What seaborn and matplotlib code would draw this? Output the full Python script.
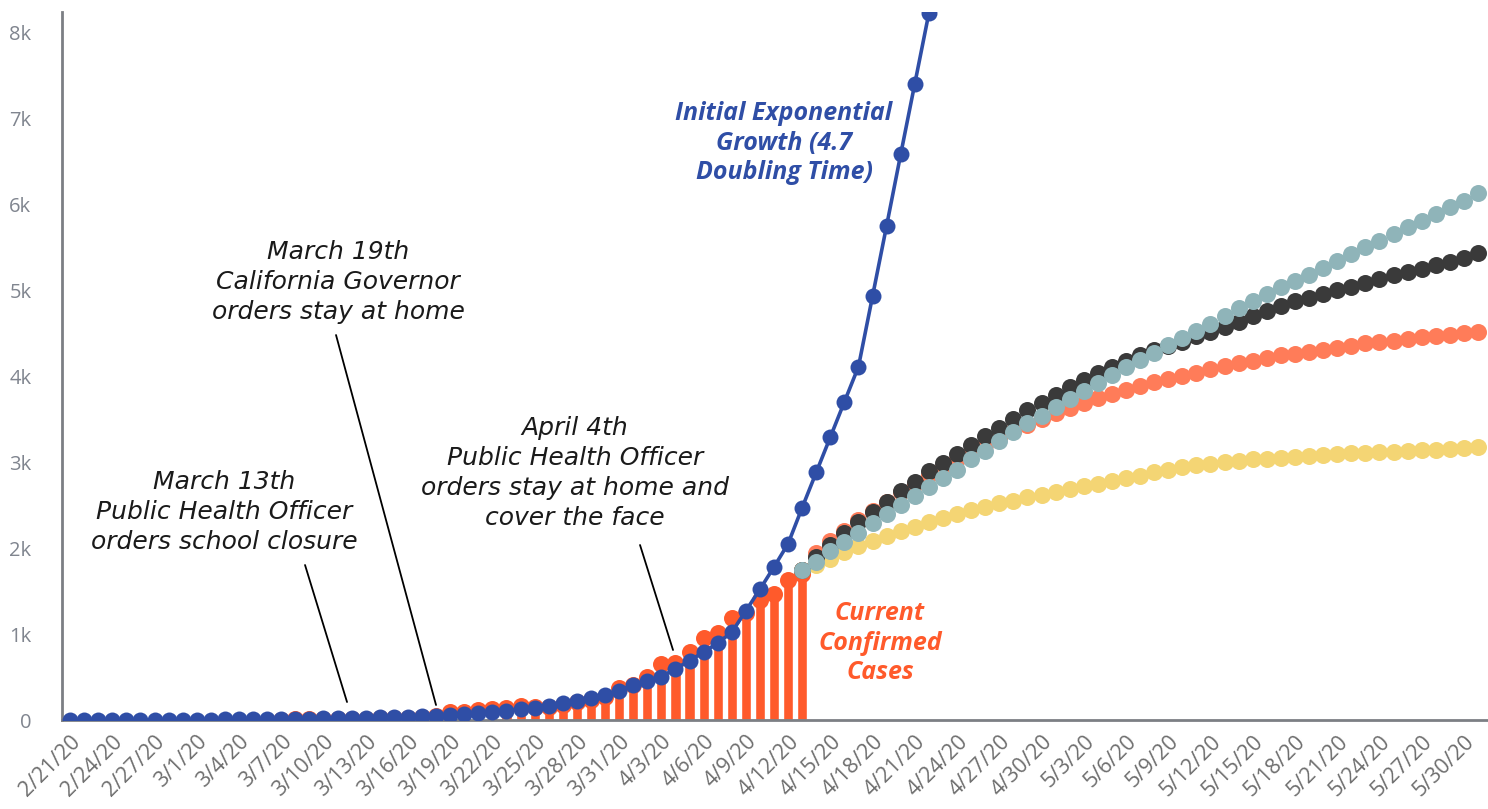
import numpy as np
import pandas as pd
import matplotlib
matplotlib.use("Agg")
import matplotlib.pyplot as plt
import seaborn as sns

# ---------------- data ----------------
dates = pd.date_range("2020-02-21", "2020-05-31", freq="D")
day = np.arange(len(dates))

tick_labels = ["2/21/20", "2/24/20", "2/27/20", "3/1/20", "3/4/20", "3/7/20", "3/10/20",
               "3/13/20", "3/16/20", "3/19/20", "3/22/20", "3/25/20", "3/28/20", "3/31/20",
               "4/3/20", "4/6/20", "4/9/20", "4/12/20", "4/15/20", "4/18/20", "4/21/20",
               "4/24/20", "4/27/20", "4/30/20", "5/3/20", "5/6/20", "5/9/20", "5/12/20",
               "5/15/20", "5/18/20", "5/21/20", "5/24/20", "5/27/20", "5/30/20"]
y_tick_labels = ["0", "1k", "2k", "3k", "4k", "5k", "6k", "7k", "8k"]

# Initial exponential growth, 2/21 .. 4/22
exp_growth = [1, 1, 1, 2, 2, 2, 3, 3, 4, 4, 5, 6, 7, 8,
              9, 11, 13, 15, 18, 21, 25, 29,
              30, 34, 39, 45, 52, 60, 70, 80, 92,
              108, 125, 145, 168, 195, 225, 255, 290, 340,
              410, 455, 505, 595, 690, 790, 895, 1020, 1270,
              1520, 1780, 2050, 2470, 2880, 3290, 3700, 4110, 4930, 5750, 6580, 7400, 8220]

# Current confirmed cases, 3/7 .. 4/13
confirmed = [5, 6, 8, 10, 12, 14, 17, 20, 24, 28, 34, 45,
             95, 95, 115, 130, 145, 165, 150, 155, 170, 205, 235, 265,
             370, 410, 500, 650, 665, 790, 950, 1010, 1190, 1250, 1400, 1460, 1630, 1700]

# Projections, 4/13 .. 5/31
proj_teal = [1740, 1840, 1960, 2070, 2180, 2290, 2390, 2500, 2610, 2710, 2810, 2910, 3030,
             3130, 3250, 3350, 3450, 3540, 3640, 3730, 3830, 3920, 4010, 4100, 4190, 4270,
             4360, 4440, 4520, 4600, 4700, 4790, 4870, 4950, 5030, 5100, 5180, 5260, 5340,
             5420, 5500, 5570, 5650, 5730, 5800, 5880, 5960, 6030, 6130]
proj_black = [1740, 1900, 2040, 2170, 2300, 2420, 2540, 2660, 2770, 2890, 2990, 3090, 3200,
              3300, 3400, 3500, 3600, 3690, 3780, 3870, 3950, 4030, 4100, 4170, 4240, 4300,
              4350, 4400, 4460, 4510, 4570, 4630, 4700, 4760, 4820, 4870, 4910, 4950, 5000,
              5040, 5080, 5130, 5170, 5210, 5250, 5290, 5330, 5370, 5430]
proj_orange = [1740, 1940, 2080, 2200, 2320, 2430, 2540, 2650, 2750, 2850, 2940, 3030, 3120,
               3200, 3280, 3360, 3430, 3500, 3570, 3630, 3690, 3740, 3790, 3840, 3880, 3930,
               3970, 4000, 4040, 4080, 4120, 4150, 4180, 4210, 4240, 4260, 4280, 4300, 4330,
               4350, 4380, 4400, 4410, 4430, 4450, 4460, 4480, 4500, 4510]
proj_yellow = [1740, 1800, 1870, 1950, 2020, 2080, 2140, 2200, 2250, 2300, 2350, 2390, 2440,
               2480, 2520, 2550, 2590, 2620, 2650, 2690, 2720, 2750, 2780, 2810, 2840, 2880,
               2910, 2940, 2960, 2980, 3000, 3010, 3030, 3040, 3050, 3060, 3070, 3080, 3090,
               3100, 3110, 3120, 3120, 3130, 3140, 3140, 3150, 3160, 3170]

conf_start = 15   # 3/7
proj_start = 52   # 4/13

exp_df = pd.DataFrame({"day": day[:len(exp_growth)], "cases": exp_growth})
conf_df = pd.DataFrame({"day": day[conf_start:conf_start + len(confirmed)], "cases": confirmed})
proj_df = pd.DataFrame({"day": day[proj_start:proj_start + len(proj_teal)],
                        "teal": proj_teal, "black": proj_black,
                        "orange": proj_orange, "yellow": proj_yellow})

# ---------------- style ----------------
BLUE = "#2f4ea6"
BAR = "#ff5a2b"
SALMON = "#ff7c59"
TEAL = "#8fb4b9"
DARK = "#3a3a3a"
YELLOW = "#f4d574"
GRAY_AX = "#7c7f84"

sns.set_theme(style="white")
plt.rcParams["font.family"] = ["Open Sans", "DejaVu Sans"]

W, H = 1488, 809
fig = plt.figure(figsize=(W / 100, H / 100), dpi=100)
ax = fig.add_axes([62 / W, 89 / H, (W - 62) / W, (720 - 12) / H])

DOT = 150
# bars
sns.barplot(data=conf_df, x="day", y="cases", native_scale=True, color=BAR,
            saturation=1, width=0.72, ax=ax, zorder=1)
# dots on bar tops
sns.scatterplot(data=conf_df, x="day", y="cases", color=BAR, s=DOT, linewidth=0,
                ax=ax, zorder=2)
# projections
sns.scatterplot(data=proj_df, x="day", y="yellow", color=YELLOW, s=DOT, linewidth=0, ax=ax, zorder=3)
sns.scatterplot(data=proj_df, x="day", y="orange", color=SALMON, s=DOT, linewidth=0, ax=ax, zorder=4)
sns.scatterplot(data=proj_df, x="day", y="black", color=DARK, s=DOT, linewidth=0, ax=ax, zorder=5)
sns.scatterplot(data=proj_df, x="day", y="teal", color=TEAL, s=DOT, linewidth=0, ax=ax, zorder=6)
# exponential
sns.lineplot(data=exp_df, x="day", y="cases", color=BLUE, marker="o", markersize=11.5,
             markeredgewidth=0, linewidth=2.6, ax=ax, zorder=7)

# axes
ax.set_xlim(-0.57, 100.71)
ax.set_ylim(0, 8233)
ax.set_xticks(np.arange(0, 100, 3))
ax.set_xticklabels(tick_labels, rotation=45, ha="right", rotation_mode="anchor",
                   fontsize=15.5, color="#6e6e6e")
ax.set_yticks(np.arange(0, 8001, 1000))
ax.set_yticklabels(y_tick_labels, fontsize=14.5, color="#80858f")
ax.tick_params(axis="x", length=0, pad=8)
ax.tick_params(axis="y", length=0, pad=22)
ax.set_xlabel("")
ax.set_ylabel("")
for s in ["top", "right"]:
    ax.spines[s].set_visible(False)
for s in ["left", "bottom"]:
    ax.spines[s].set_color(GRAY_AX)
    ax.spines[s].set_linewidth(2)
ax.grid(False)


def dx(px):
    return (px - 70) / 14.08


def dy(py):
    return (720 - py) / 86 * 1000


# annotations
note_kw = dict(ha="center", va="center", fontsize=18, style="italic", color="#1a1a1a",
               family=["DejaVu Sans"], linespacing=1.33, zorder=10)
ax.text(dx(338), dy(282), "March 19th\nCalifornia Governor\norders stay at home", **note_kw)
ax.text(dx(224), dy(512), "March 13th\nPublic Health Officer\norders school closure", **note_kw)
ax.text(dx(575), dy(473), "April 4th\nPublic Health Officer\norders stay at home and\ncover the face", **note_kw)

line_kw = dict(arrowstyle="-", lw=1.3, color="black", shrinkA=0, shrinkB=0)
ax.annotate("", xy=(dx(436), dy(705)), xytext=(dx(336), dy(335)), arrowprops=line_kw)
ax.annotate("", xy=(dx(347), dy(702)), xytext=(dx(305), dy(565)), arrowprops=line_kw)
ax.annotate("", xy=(dx(673), dy(650)), xytext=(dx(640), dy(545)), arrowprops=line_kw)

ax.text(dx(784), dy(143), "Initial Exponential\nGrowth (4.7\nDoubling Time)", ha="center",
        va="center", fontsize=18, style="italic", weight="bold", color=BLUE,
        linespacing=1.22, zorder=10)
ax.text(dx(880), dy(643), "Current\nConfirmed\nCases", ha="center", va="center",
        fontsize=18, style="italic", weight="bold", color=BAR, linespacing=1.22, zorder=10)

fig.savefig("out.png", dpi=100)
